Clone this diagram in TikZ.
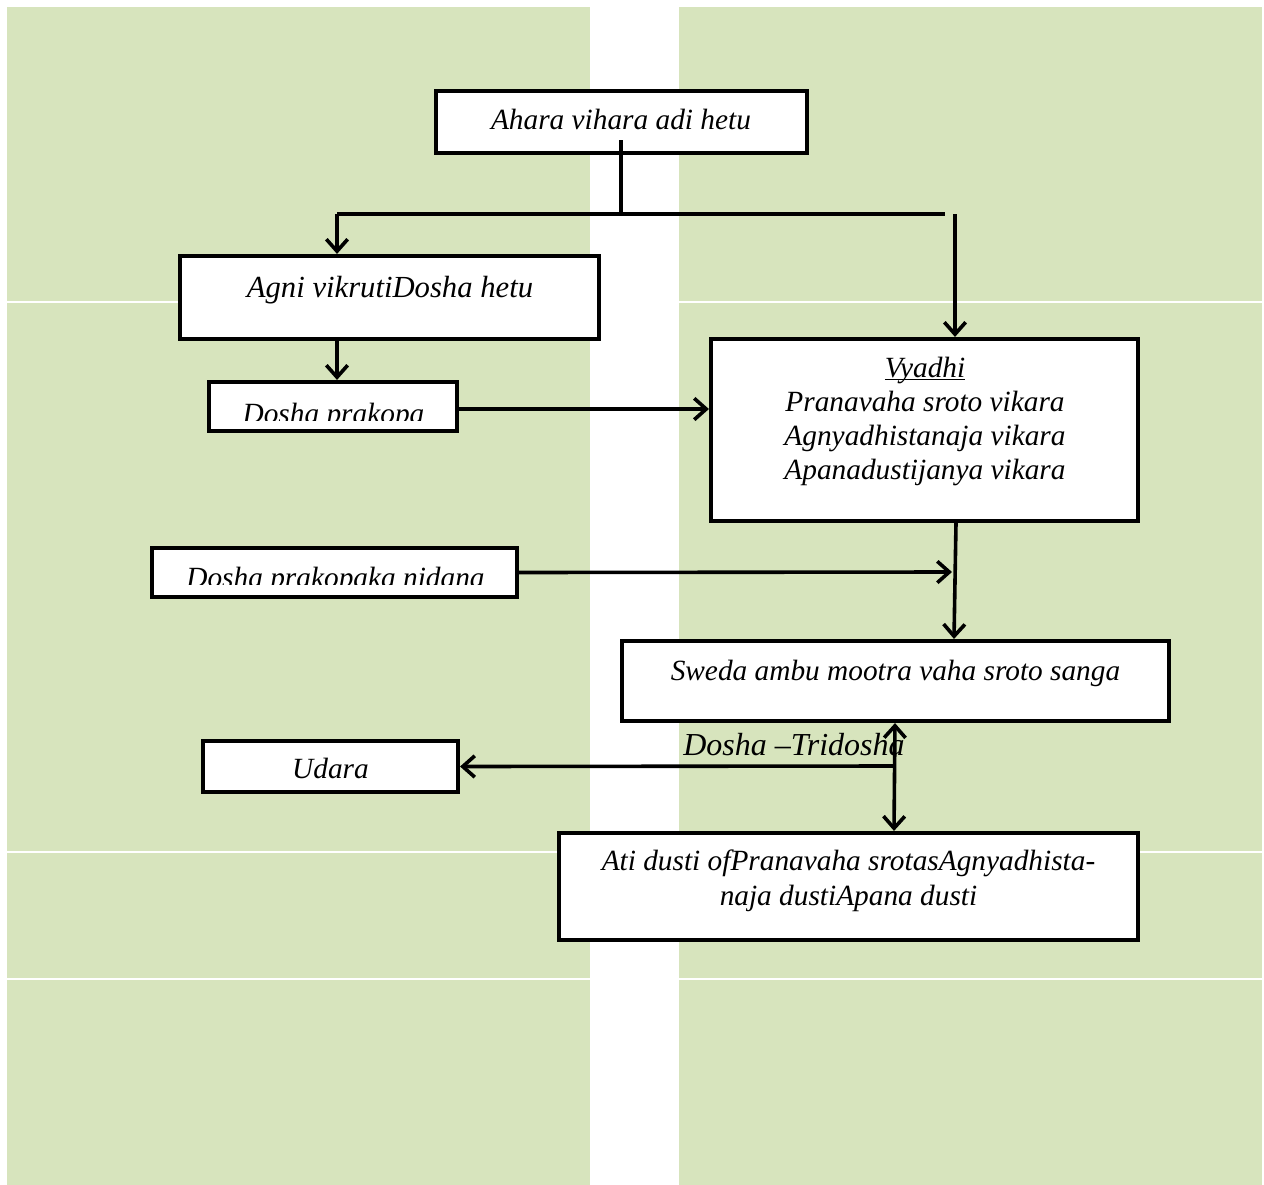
\documentclass[tikz,border=0pt]{standalone}
\usepackage{fontspec}
\setmainfont{Liberation Serif}
\usetikzlibrary{arrows.meta}
\definecolor{panel}{RGB}{215,228,189}
\newcommand\ulword[1]{\setbox0\hbox{#1}\rlap{\rule[-2.6pt]{\wd0}{1pt}}\box0}
\tikzset{
  box/.style={draw, line width=3.1pt, fill=white, inner sep=0pt, rectangle},
  txt/.style={font=\fontsize{22}{25.5}\selectfont\itshape, inner sep=0pt},
  conn/.style={line width=2.7pt},
  arr/.style={conn, -{Straight Barb[length=9pt,width=16pt]}},
  arrboth/.style={conn, {Straight Barb[length=9pt,width=16pt]}-{Straight Barb[length=9pt,width=16pt]}},
  sep/.style={white, line width=1.1pt}
}
\begin{document}
\begin{tikzpicture}[x=0.75pt,y=-0.75pt]
\useasboundingbox (0,0) rectangle (1264,1185);
% background panels
\fill[panel] (7,7) rectangle (590,1185);
\fill[panel] (679,7) rectangle (1262,1185);
\foreach \yy in {302,852,979}{
  \draw[sep] (7,\yy) -- (590,\yy);
  \draw[sep] (679,\yy) -- (1262,\yy);
}
% boxes
\node[box, minimum width=278.25pt, minimum height=46.5pt] (ahara) at (621.5,122) {};
\node[box, minimum width=314.25pt, minimum height=62.25pt] (agni) at (389.5,297.5) {};
\node[box, minimum width=186pt, minimum height=36.75pt] (prakopa) at (333,406.5) {};
\node[box, minimum width=320.25pt, minimum height=136.5pt] (vyadhi) at (924.5,430) {};
\node[box, minimum width=273.75pt, minimum height=36.75pt] (nidana) at (334.5,572.5) {};
\node[box, minimum width=410.25pt, minimum height=60pt] (sweda) at (895.5,681) {};
\node[box, minimum width=191.25pt, minimum height=38.25pt] (udara) at (330.5,766.5) {};
\node[box, minimum width=434.25pt, minimum height=80.25pt] (ati) at (848.5,886.5) {};
% texts
\node[txt, anchor=base] (aharat) at (621,129.5) {Ahara vihara adi hetu};
\node[txt, anchor=base, font=\fontsize{23}{26}\selectfont\itshape] (agnit) at (390,297) {Agni vikrutiDosha hetu};
\begin{scope}
  \clip (prakopa.north west) rectangle (457,420);
  \node[txt, anchor=base] (prakopat) at (333.5,423) {Dosha prakopa};
\end{scope}
\node[txt, anchor=base] (vyadhit) at (925,377) {\begin{tabular}[t]{@{}c@{}}\ulword{Vyadhi}\\Pranavaha sroto vikara\\Agnyadhistanaja vikara\\Apanadustijanya vikara\end{tabular}};
\begin{scope}
  \clip (nidana.north west) rectangle (517,584);
  \node[txt, anchor=base] (nidanat) at (335.5,587) {Dosha prakopaka nidana};
\end{scope}
\node[txt, anchor=base] (swedat) at (895.5,680) {Sweda ambu mootra vaha sroto sanga};
\node[txt, anchor=base] (udarat) at (330.5,778) {Udara};
\node[txt, anchor=base, font=\fontsize{22}{26.25}\selectfont\itshape] (atit) at (848.5,870) {\begin{tabular}[t]{@{}c@{}}Ati dusti ofPranavaha srotasAgnyadhista-\\naja dustiApana dusti\end{tabular}};
\node[txt, anchor=base west, font=\fontsize{24}{28}\selectfont\itshape] (dtlabel) at (683,755) {Dosha –Tridosha};
% connectors
\coordinate (aharaout) at (621,140);
\coordinate (split) at (621,214);
\coordinate (lsplit) at (337,214);
\coordinate (rsplit) at (945,214);
\coordinate (rdrop) at (955,214);
\coordinate (nidanaend) at (952,572);
\coordinate (udjoin) at (895,766);
\draw[conn] (aharaout) -- (split);
\draw[conn] (lsplit) -- (rsplit);
\draw[arr] (lsplit) -- (lsplit |- agni.north);
\draw[arr] (rdrop) -- (rdrop |- vyadhi.north);
\draw[arr] (agni.south -| lsplit) -- (prakopa.north -| lsplit);
\draw[arr] (prakopa.east |- 0,409) -- (vyadhi.west |- 0,409);
\draw[arr] (vyadhi.south -| 956,0) -- (sweda.north -| 954,0);
\draw[arr] (nidana.east) -- (nidanaend);
\draw[arrboth] (sweda.south -| udjoin) -- (ati.north -| 894,0);
\draw[arr] (udjoin) -- (udara.east);
\end{tikzpicture}
\end{document}
